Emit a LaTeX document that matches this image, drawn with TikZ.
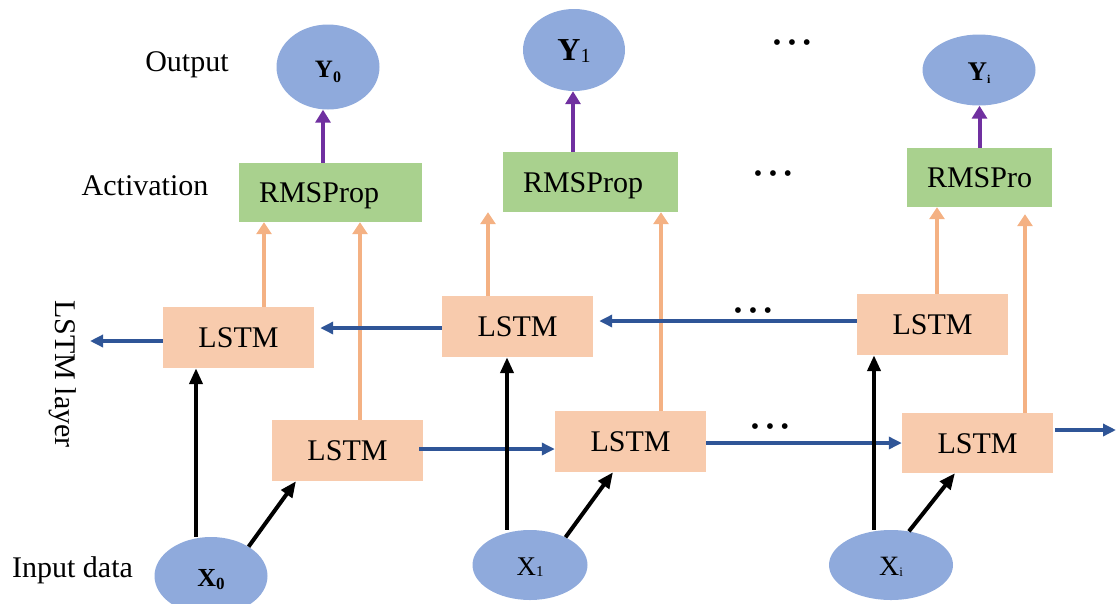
\documentclass[tikz,border=0pt]{standalone}
\usepackage{fontspec}
\setmainfont{Liberation Serif}
\usetikzlibrary{positioning,arrows.meta,shapes.geometric}

\definecolor{nodeblue}{HTML}{8FAADC}
\definecolor{actgreen}{HTML}{A9D18E}
\definecolor{cellpeach}{HTML}{F8CBAD}
\definecolor{uporange}{HTML}{F4B183}
\definecolor{flowblue}{HTML}{2F5597}
\definecolor{outpurple}{HTML}{7030A0}

% index set lower and at its own size
\newcommand{\subidx}[3]{\raisebox{-#2}{\fontsize{#1}{#1}\selectfont #3}}

\begin{document}
\begin{tikzpicture}[x=1pt,y=-1pt,
    every node/.style={font=\fontsize{30}{36}\selectfont, inner sep=0pt},
    lbl/.style={text height=20pt, text depth=0pt},
    elli/.style={ellipse, fill=nodeblue, text height=20pt, text depth=0pt},
    cell/.style={rectangle, fill=cellpeach, minimum width=151pt, minimum height=61pt, text height=20pt, text depth=0pt},
    act/.style={rectangle, fill=actgreen, minimum height=59pt, inner xsep=20pt, align=left, text height=20pt, text depth=0pt},
    dotrow/.style={font=\fontsize{24}{24}\selectfont},
    toout/.style={outpurple, line width=4pt, -{Triangle[length=13pt,width=15pt]}},
    toact/.style={uporange, line width=3.5pt, -{Triangle[length=12pt,width=15pt]}},
    flow/.style={flowblue, line width=3.5pt, -{Triangle[length=13pt,width=12pt]}},
    feed/.style={black, line width=4pt, -{Triangle[length=16pt,width=13pt]}}]
    \useasboundingbox (0,0) rectangle (1116,603);

    % Labels
    \node[lbl] (outlbl) at (187,61) {Output};
    \node[lbl] (actlbl) at (145,185) {Activation};
    \node[lbl, rotate=-90] (layerlbl) at (65,374) {LSTM layer};
    \node[lbl] (inlbl) at (72.5,567) {Input data};

    % Outputs
    \node[elli, minimum width=103pt, minimum height=85pt, font=\fontsize{25}{30}\selectfont\bfseries] (y0) at (328,67) {Y\subidx{16}{5pt}{0}};
    \node[elli, minimum width=102pt, minimum height=82pt, font=\fontsize{32}{38}\selectfont] (y1) at (574,50) {\textbf{Y}\subidx{20}{2pt}{1}};
    \node[elli, minimum width=113pt, minimum height=71pt, font=\fontsize{27}{32}\selectfont\bfseries] (yi) at (979,70) {Y\subidx{12}{3pt}{i}};

    % Activation
    \node[act, text width=143pt, minimum height=59pt] (act0) at (330.5,192.5) {RMSProp};
    \node[act, text width=135pt, minimum height=60pt] (act1) at (590.5,182) {RMSProp};
    \node[act, text width=105pt, minimum height=59pt] (acti) at (979.5,177.5) {RMSPro};

    % LSTM cells, backward row and forward row
    \node[cell] (lstmb0) at (238.5,337.5) {LSTM};
    \node[cell] (lstmb1) at (517.5,326.5) {LSTM};
    \node[cell] (lstmbi) at (932.5,324.5) {LSTM};
    \node[cell] (lstmf0) at (347.5,450.5) {LSTM};
    \node[cell] (lstmf1) at (630.5,441.5) {LSTM};
    \node[cell, minimum height=60pt] (lstmfi) at (977.5,443) {LSTM};

    % Inputs
    \node[elli, minimum width=113pt, minimum height=78pt, font=\fontsize{26}{31}\selectfont\bfseries] (x0) at (211,576) {X\subidx{17}{3pt}{0}};
    \node[elli, minimum width=115pt, minimum height=70pt, font=\fontsize{27}{32}\selectfont] (x1) at (530,565) {X\subidx{15}{1pt}{1}};
    \node[elli, minimum width=124pt, minimum height=70pt, font=\fontsize{28}{33}\selectfont] (xi) at (891,565) {X\subidx{13}{1pt}{i}};

    % Dots
    \node[dotrow] (dotsy) at (792,45) {\textbullet\hspace{6.5pt}\textbullet\hspace{6.5pt}\textbullet};
    \node[dotrow] (dotsact) at (773,176) {\textbullet\hspace{6.5pt}\textbullet\hspace{6.5pt}\textbullet};
    \node[dotrow] (dotsb) at (753,313) {\textbullet\hspace{6.5pt}\textbullet\hspace{6.5pt}\textbullet};
    \node[dotrow] (dotsf) at (770,429) {\textbullet\hspace{6.5pt}\textbullet\hspace{6.5pt}\textbullet};

    % Free ends and start points of the recurrent arrows
    \coordinate (endl) at (90,341);
    \coordinate (endr) at (1116,430);
    \coordinate (fromb1) at ([yshift=-1.5pt]lstmb1.west);
    \coordinate (frombi) at ([yshift=3.5pt]lstmbi.west);
    \coordinate (fromf0) at ([xshift=-4pt,yshift=1.5pt]lstmf0.east);
    \coordinate (fromf1) at ([yshift=-1.5pt]lstmf1.east);

    % Activation to output
    \draw[toout] ([xshift=-7.5pt]act0.north) -- ([xshift=-7.5pt]act0.north |- y0.south);
    \draw[toout] ([xshift=-17.5pt]act1.north) -- ([xshift=-17.5pt]act1.north |- y1.south);
    \draw[toout] (acti.north) -- (acti.north |- yi.south);

    % Cells to activation
    \draw[toact] ([xshift=25.5pt]lstmb0.north) -- ([xshift=25.5pt]lstmb0.north |- act0.south);
    \draw[toact] ([xshift=12.5pt]lstmf0.north) -- ([xshift=12.5pt]lstmf0.north |- act0.south);
    \draw[toact] ([xshift=-29.5pt]lstmb1.north) -- ([xshift=-29.5pt]lstmb1.north |- act1.south);
    \draw[toact] ([xshift=30.5pt]lstmf1.north) -- ([xshift=30.5pt]lstmf1.north |- act1.south);
    \draw[toact] ([xshift=4.5pt]lstmbi.north) -- ([xshift=4.5pt]lstmbi.north |- acti.south);
    \draw[toact, shorten >=7pt] ([xshift=47.5pt]lstmfi.north) -- ([xshift=47.5pt]lstmfi.north |- acti.south);

    % Recurrent flow
    \draw[flow] (lstmb0.west |- endl) -- (endl);
    \draw[flow] (fromb1) -- ([xshift=6pt]lstmb0.east |- fromb1);
    \draw[flow] (frombi) -- ([xshift=6pt]lstmb1.east |- frombi);
    \draw[flow] (fromf0) -- (lstmf1.west |- fromf0);
    \draw[flow] (fromf1) -- (lstmfi.west |- fromf1);
    \draw[flow] ([xshift=2pt]lstmfi.east |- endr) -- (endr);

    % Inputs to cells
    \draw[feed] ([xshift=-15pt]x0.north) -- ([xshift=-15pt]x0.north |- lstmb0.south);
    \draw[feed] (x0.38) -- ([xshift=-51.5pt]lstmf0.south);
    \draw[feed] ([xshift=-23pt]x1.north) -- ([xshift=-23pt]x1.north |- lstmb1.south);
    \draw[feed] (x1.38) -- ([xshift=-17.5pt]lstmf1.south);
    \draw[feed] ([xshift=-17pt]xi.north) -- ([xshift=-17pt]xi.north |- lstmbi.south);
    \draw[feed] (xi.62) -- ([xshift=-22.5pt]lstmfi.south);
\end{tikzpicture}
\end{document}
